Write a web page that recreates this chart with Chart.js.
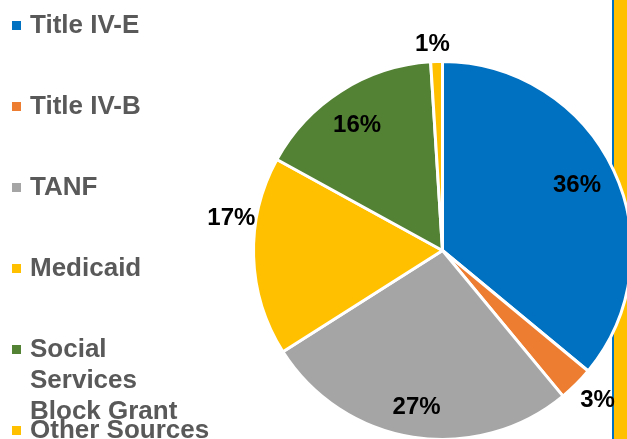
<!DOCTYPE html>
<html>
<head>
<meta charset="utf-8">
<script src="https://cdn.jsdelivr.net/npm/chart.js@4.4.1/dist/chart.umd.min.js"></script>
<style>
    html, body { margin: 0; padding: 0; width: 627px; height: 439px; overflow: hidden; background: #fff; }
    #stripe-line { position: absolute; left: 612px; top: 0; width: 2px; height: 439px; background: #0070C0; }
    #stripe { position: absolute; left: 614px; top: 0; width: 13px; height: 439px; background: #FFC000; }
    #chart { position: absolute; left: 0; top: 0; }
    #legend { position: absolute; left: 0; top: 0; font-family: "Liberation Sans", Arial, sans-serif; font-weight: bold; font-size: 26px; color: #595959; }
    .item { position: absolute; left: 12px; line-height: 31px; }
    .box { position: absolute; left: 0; top: 12px; width: 9px; height: 9px; }
    .text { position: absolute; left: 18px; top: 0; width: 182px; white-space: normal; }
</style>
</head>
<body>
<div id="stripe-line"></div>
<div id="stripe"></div>
<canvas id="chart" width="660" height="470"></canvas>
<div id="legend"></div>
<script>
const categories = ["Title IV-E", "Title IV-B", "TANF", "Medicaid", "Social Services Block Grant", "Other Sources"];
const shares = [36, 3, 27, 17, 16, 1];
const colors = ["#0070C0", "#ED7D31", "#A5A5A5", "#FFC000", "#548235", "#FFC000"];

// where each percentage label sits: fraction of the radius and a small angle nudge (degrees)
const labelRadius = [0.79, 1.14, 0.84, 1.13, 0.80, 1.09];
const labelNudge = [-0.5, -1, 0.4, 10.4, -2, -1];

const pieLabels = {
    id: "pieLabels",
    afterDatasetsDraw(chart) {
        const ctx = chart.ctx;
        const arcs = chart.getDatasetMeta(0).data;
        ctx.save();
        ctx.font = "bold 24px 'Liberation Sans', Arial, sans-serif";
        ctx.fillStyle = "#000";
        ctx.textAlign = "center";
        ctx.textBaseline = "middle";
        arcs.forEach((arc, i) => {
            const p = arc.getProps(["x", "y", "startAngle", "endAngle", "outerRadius"], true);
            const mid = (p.startAngle + p.endAngle) / 2 + labelNudge[i] * Math.PI / 180;
            const r = p.outerRadius * labelRadius[i];
            ctx.fillText(shares[i] + "%", p.x + r * Math.cos(mid), p.y + r * Math.sin(mid));
        });
        ctx.restore();
    }
};

new Chart(document.getElementById("chart"), {
    type: "pie",
    data: {
        labels: categories,
        datasets: [{
            data: shares,
            backgroundColor: colors,
            borderColor: "#fff",
            borderWidth: 3
        }]
    },
    options: {
        responsive: false,
        animation: false,
        layout: { padding: { left: 252, top: 60, right: 27, bottom: 29 } },
        plugins: {
            legend: { display: false },
            tooltip: { enabled: false }
        }
    },
    plugins: [pieLabels]
});

let legend = document.getElementById("legend");
categories.forEach((name, i) => {
    let item = document.createElement("div");
    item.className = "item";
    item.style.top = (9 + i * 81) + "px";
    item.innerHTML = `<span class="box" style="background:${colors[i]}"></span><span class="text">${name}</span>`;
    legend.appendChild(item);
});
</script>
</body>
</html>
